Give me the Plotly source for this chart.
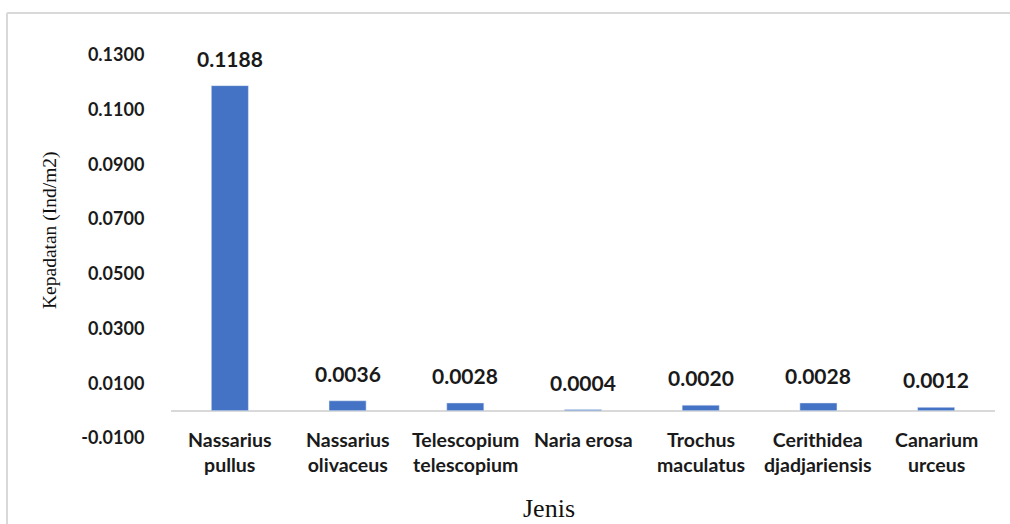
import plotly.graph_objects as go

categories = ["Nassarius<br>pullus", "Nassarius<br>olivaceus", "Telescopium<br>telescopium",
              "Naria erosa", "Trochus<br>maculatus", "Cerithidea<br>djadjariensis", "Canarium<br>urceus"]
values = [0.1188, 0.0036, 0.0028, 0.0004, 0.0020, 0.0028, 0.0012]
value_labels = ["0.1188", "0.0036", "0.0028", "0.0004", "0.0020", "0.0028", "0.0012"]
y_ticks = [-0.01, 0.01, 0.03, 0.05, 0.07, 0.09, 0.11, 0.13]
y_tick_labels = ["-0.0100", "0.0100", "0.0300", "0.0500", "0.0700", "0.0900", "0.1100", "0.1300"]
y_title = "Kepadatan (Ind/m2)"
x_title = "Jenis"

W, H = 1010, 524
L, R, T, B = 171, 15, 55, 86
pw = W - L - R
ph = H - T - B

def px_x(p):
    return (p - L) / pw

def px_y(p):
    return 1 - (p - T) / ph

sans = "Lato"
serif = "Liberation Serif"

fig = go.Figure()
fig.add_trace(go.Bar(x=categories, y=values, marker_color="#4472C4", width=0.315,
                     hoverinfo="skip"))

annotations = []
for c, v, t in zip(categories, values, value_labels):
    annotations.append(dict(x=c, y=v, xref="x", yref="y", text=t, showarrow=False,
                            yanchor="bottom", yshift=13,
                            font=dict(family=sans, size=21, color="#1a1a1a", weight="bold")))
    annotations.append(dict(x=c, y=-0.01, xref="x", yref="y", text=c, showarrow=False,
                            yanchor="top", yshift=12,
                            font=dict(family=sans, size=19.5, color="#1a1a1a", weight="bold")))

annotations.append(dict(x=px_x(50), y=px_y(230), xref="paper", yref="paper", text=y_title,
                        textangle=-90, showarrow=False, xanchor="center", yanchor="middle",
                        font=dict(family=serif, size=19.5, color="#111")))
annotations.append(dict(x=px_x(549), y=px_y(508), xref="paper", yref="paper", text=x_title,
                        showarrow=False, xanchor="center", yanchor="middle",
                        font=dict(family=serif, size=26, color="#111")))

shapes = [
    dict(type="line", xref="paper", yref="paper", x0=px_x(7), x1=px_x(1010), y0=px_y(13), y1=px_y(13),
         line=dict(color="#d9d9d9", width=2)),
    dict(type="line", xref="paper", yref="paper", x0=px_x(7), x1=px_x(7), y0=px_y(13), y1=px_y(524),
         line=dict(color="#d9d9d9", width=2)),
]

fig.update_layout(
    width=W, height=H,
    margin=dict(l=L, r=R, t=T, b=B),
    paper_bgcolor="white", plot_bgcolor="white",
    showlegend=False,
    annotations=annotations,
    shapes=shapes,
)
fig.update_xaxes(showticklabels=False, showgrid=False, showline=False, zeroline=False, ticks="")
fig.update_yaxes(range=[-0.01, 0.13], tickvals=y_ticks, ticktext=y_tick_labels,
                 showgrid=False, showline=False, zeroline=True, zerolinecolor="#d9d9d9",
                 zerolinewidth=1.5, ticks="outside", ticklen=22, tickcolor="rgba(0,0,0,0)",
                 tickfont=dict(family=sans, size=18, color="#1a1a1a", weight="bold"))

fig.write_html("out.html")
